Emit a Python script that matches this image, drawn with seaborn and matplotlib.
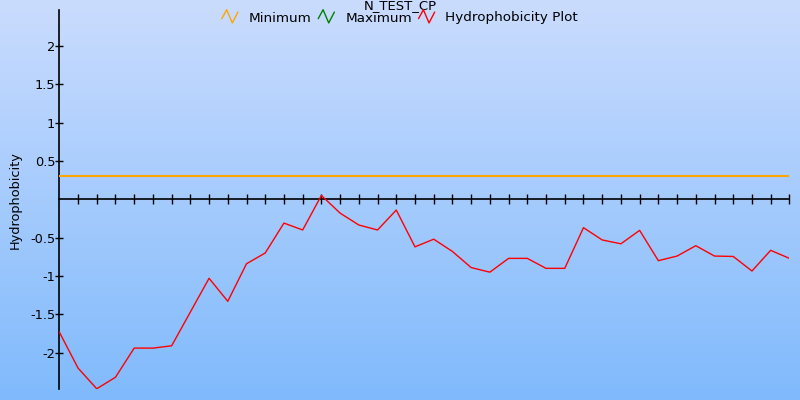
import numpy as np
import pandas as pd
import matplotlib
matplotlib.use("Agg")
import matplotlib.pyplot as plt
import seaborn as sns
from matplotlib.lines import Line2D
from matplotlib.legend_handler import HandlerBase
from matplotlib.colors import LinearSegmentedColormap

title = "N_TEST_CP"
y_label = "Hydrophobicity"
hydro = [-1.73, -2.20, -2.47, -2.32, -1.94, -1.94, -1.91, -1.47, -1.03, -1.33,
         -0.84, -0.70, -0.31, -0.40, 0.05, -0.18, -0.335, -0.40, -0.14, -0.62,
         -0.52, -0.68, -0.89, -0.95, -0.77, -0.77, -0.90, -0.90, -0.37, -0.53,
         -0.58, -0.405, -0.80, -0.74, -0.605, -0.74, -0.745, -0.935, -0.665, -0.77]
positions = list(range(len(hydro)))
minimum_value = 0.30
maximum_value = 0.30
y_ticks = [2, 1.5, 1, 0.5, -0.5, -1, -1.5, -2]
y_tick_labels = ["2", "1.5", "1", "0.5", "-0.5", "-1", "-1.5", "-2"]

sns.set_theme(style="white")
plt.rcParams['font.family'] = ['DejaVu Sans']
plt.rcParams['text.color'] = 'black'
plt.rcParams['xtick.color'] = 'black'
plt.rcParams['ytick.color'] = 'black'

fig = plt.figure(figsize=(8, 4), dpi=100)

# gradient background
bg = fig.add_axes([0, 0, 1, 1], zorder=-10)
cmap = LinearSegmentedColormap.from_list("bg", ["#CADCFE", "#80BAFC"])
grad = np.linspace(0, 1, 256).reshape(-1, 1)
bg.imshow(grad, aspect="auto", cmap=cmap, extent=[0, 1, 0, 1], origin="upper")
bg.set_axis_off()

ax = fig.add_axes([59.3 / 800, 1 - 389.3 / 400, (789.4 - 59.3) / 800, (389.3 - 10) / 400])
ax.patch.set_alpha(0)

df = pd.DataFrame({"pos": positions, "val": hydro})
lim_df = pd.DataFrame({"pos": [positions[0], positions[-1]],
                       "min": [minimum_value] * 2,
                       "max": [maximum_value] * 2})

sns.lineplot(data=lim_df, x="pos", y="max", color="#008000", lw=1.3, ax=ax, zorder=2)
sns.lineplot(data=lim_df, x="pos", y="min", color="#FFA500", lw=1.5, ax=ax, zorder=3)
sns.lineplot(data=df, x="pos", y="val", color="#FF0000", lw=1.0, ax=ax, zorder=4)

ax.set_xlim(positions[0], positions[-1])
ax.set_ylim(-2.477, 2.468)
ax.set_xlabel("")
ax.set_ylabel("")

for s in ["top", "right"]:
    ax.spines[s].set_visible(False)
ax.spines["bottom"].set_position(("data", 0))
for s in ["left", "bottom"]:
    ax.spines[s].set_color("black")
    ax.spines[s].set_linewidth(1.2)

ax.set_xticks(positions[1:])
ax.set_xticklabels([])
ax.set_yticks(y_ticks)
ax.set_yticklabels(y_tick_labels, fontsize=9.3, color="black")
ax.tick_params(axis="x", direction="inout", length=7, width=1, color="black", bottom=True)
ax.tick_params(axis="y", direction="inout", length=6, width=1, color="black", left=True, pad=0)
ax.grid(False)

fig.text(0.5, 1 - 6 / 400, title, ha="center", va="center", fontsize=9.5, color="black")
fig.text(15 / 800, 0.5, y_label, rotation=90, ha="center", va="center", fontsize=9.3,
         color="black")


class ZigZag(HandlerBase):
    def create_artists(self, legend, orig_handle, xdescent, ydescent, width, height, fontsize, trans):
        xs = np.array([0.0, 0.3, 0.65, 1.0]) * width - xdescent
        ys = np.array([0.3, 1.25, -0.15, 1.0]) * height - ydescent
        ln = Line2D(xs, ys, color=orig_handle.get_color(), lw=1.0, transform=trans)
        return [ln]


handles = [Line2D([], [], color="#FFA500"), Line2D([], [], color="#008000"),
           Line2D([], [], color="#FF0000")]
labels = ["Minimum", "Maximum", "Hydrophobicity Plot"]
leg = fig.legend(handles, labels, loc="center", bbox_to_anchor=(0.5, 1 - 18 / 400), ncol=3,
                 frameon=False, fontsize=9.7, handlelength=1.2, handletextpad=0.8,
                 columnspacing=0.5, handler_map={Line2D: ZigZag()})
for t in leg.get_texts():
    t.set_color("black")

fig.savefig("out.png", dpi=100)
